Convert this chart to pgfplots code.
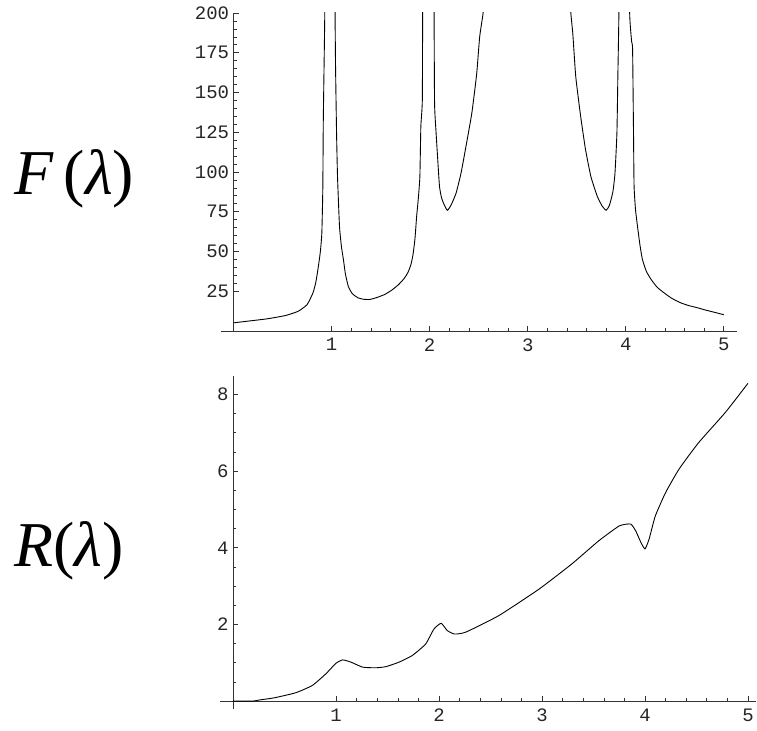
\documentclass[border=0pt]{standalone}
\usepackage{fontspec}
\setmainfont{Liberation Serif}
\newfontfamily\tickfont{Liberation Mono}
\usepackage{pgfplots}
\pgfplotsset{compat=1.18}

\pgfplotsset{
  mma/.style={
    axis lines=middle,
    axis line style={-, line width=0.8pt, black!80},
    tick align=inside,
    major tick length=5pt,
    minor tick length=3pt,
    every tick/.style={black!80, line width=0.6pt},
    tick label style={font=\tickfont\fontsize{19}{19}\selectfont, black!85},
    /pgf/number format/assume math mode=true,
    xtick={1,2,3,4,5},
    minor x tick num=4,
    xticklabel style={yshift=-4pt},
    yticklabel style={xshift=-1pt},
    unbounded coords=jump,
    clip=true,
  },
  curve/.style={black, line width=0.9pt, no marks, smooth, tension=0.3},
}

\begin{document}
\begin{tikzpicture}
\pgfresetboundingbox
\path (0,0) rectangle (757pt,732pt);

\node[anchor=base west, font=\fontsize{64}{64}\selectfont, inner sep=0pt]
  at (14pt,537pt) {{\itshape F}\,({\itshape λ})};
\node[anchor=base west, font=\fontsize{64}{64}\selectfont, inner sep=0pt]
  at (14pt,165pt) {{\itshape R}({\itshape λ})};

% upper panel
\begin{axis}[
  mma,
  at={(234pt,400.5pt)},
  anchor=origin,
  x=98.2pt, y=1.5926pt,
  xmin=-0.13, xmax=5.13,
  ymin=0, ymax=200,
  ytick={25,50,...,200},
  minor y tick num=4,
]
\addplot[curve] coordinates {
  (0.0,5.1) (0.15,6.2) (0.34,7.6) (0.53,9.7) (0.66,12.4) (0.75,16.6)
  (0.81,24) (0.84,31) (0.865,40.7) (0.885,50) (0.90,61.6) (0.91,90)
  (0.915,132.8) (0.93,200) (0.932,260)
  (0.98,nan)
  (1.033,260) (1.035,200) (1.04,166) (1.05,125) (1.06,97) (1.08,66)
  (1.10,53) (1.12,45) (1.14,36) (1.17,28) (1.21,23.5) (1.27,20.8)
  (1.33,19.9) (1.39,19.8) (1.46,21) (1.54,22.9) (1.61,25.5) (1.68,29)
  (1.74,33) (1.78,37) (1.81,42) (1.83,48) (1.85,58) (1.867,72)
  (1.885,84) (1.90,97) (1.91,128.6) (1.925,145) (1.928,200) (1.93,260)
  (1.99,nan)
  (2.043,260) (2.045,200) (2.05,143) (2.065,125) (2.08,110) (2.10,91)
  (2.12,84) (2.14,80.5) (2.18,75.9) (2.22,79.4) (2.27,86.8) (2.32,99.3)
  (2.37,116) (2.43,137) (2.48,162) (2.51,185) (2.545,200) (2.56,215)
  (3.0,nan)
  (3.43,215) (3.44,200) (3.46,187) (3.49,160) (3.54,135) (3.59,114)
  (3.645,97) (3.71,84.6) (3.76,78.5) (3.80,75.9) (3.83,78.5) (3.85,82.6)
  (3.87,88) (3.89,99) (3.91,124.5) (3.92,162) (3.93,200) (3.932,260)
  (3.98,nan)
  (4.038,260) (4.04,200) (4.06,182) (4.07,176.8) (4.08,120) (4.085,91)
  (4.10,76) (4.12,65.8) (4.145,54) (4.17,45) (4.21,37.5) (4.26,32.3)
  (4.32,27.5) (4.39,24) (4.47,20.5) (4.56,17.7) (4.64,16) (4.73,14.6)
  (4.81,13.2) (4.90,11.8) (5.0,10.2)
};
\end{axis}

% lower panel
\begin{axis}[
  mma,
  at={(233.5pt,29.7pt)},
  anchor=origin,
  x=103.15pt, y=38.4pt,
  xmin=-0.13, xmax=5.075,
  ymin=-0.2, ymax=8.48,
  ytick={2,4,6,8},
  minor ytick={0.5,1,1.5,2.5,3,3.5,4.5,5,5.5,6.5,7,7.5},
]
\addplot[curve] coordinates {
  (0,0) (0.19,0) (0.257,0.03) (0.40,0.086) (0.61,0.22) (0.77,0.41)
  (0.90,0.71) (1.0,0.99) (1.065,1.075) (1.146,1.015) (1.26,0.885)
  (1.39,0.87) (1.485,0.90) (1.61,1.015) (1.74,1.19) (1.87,1.49)
  (1.95,1.88) (2.02,2.03) (2.08,1.84) (2.15,1.75) (2.26,1.80)
  (2.58,2.23) (2.97,2.92) (3.29,3.58) (3.55,4.18) (3.75,4.57)
  (3.86,4.62) (3.91,4.44) (3.96,4.14) (4.0,3.97) (4.04,4.23)
  (4.10,4.83) (4.20,5.44) (4.33,6.05) (4.52,6.74) (4.78,7.53) (5.0,8.29)
};
\end{axis}
\end{tikzpicture}
\end{document}
